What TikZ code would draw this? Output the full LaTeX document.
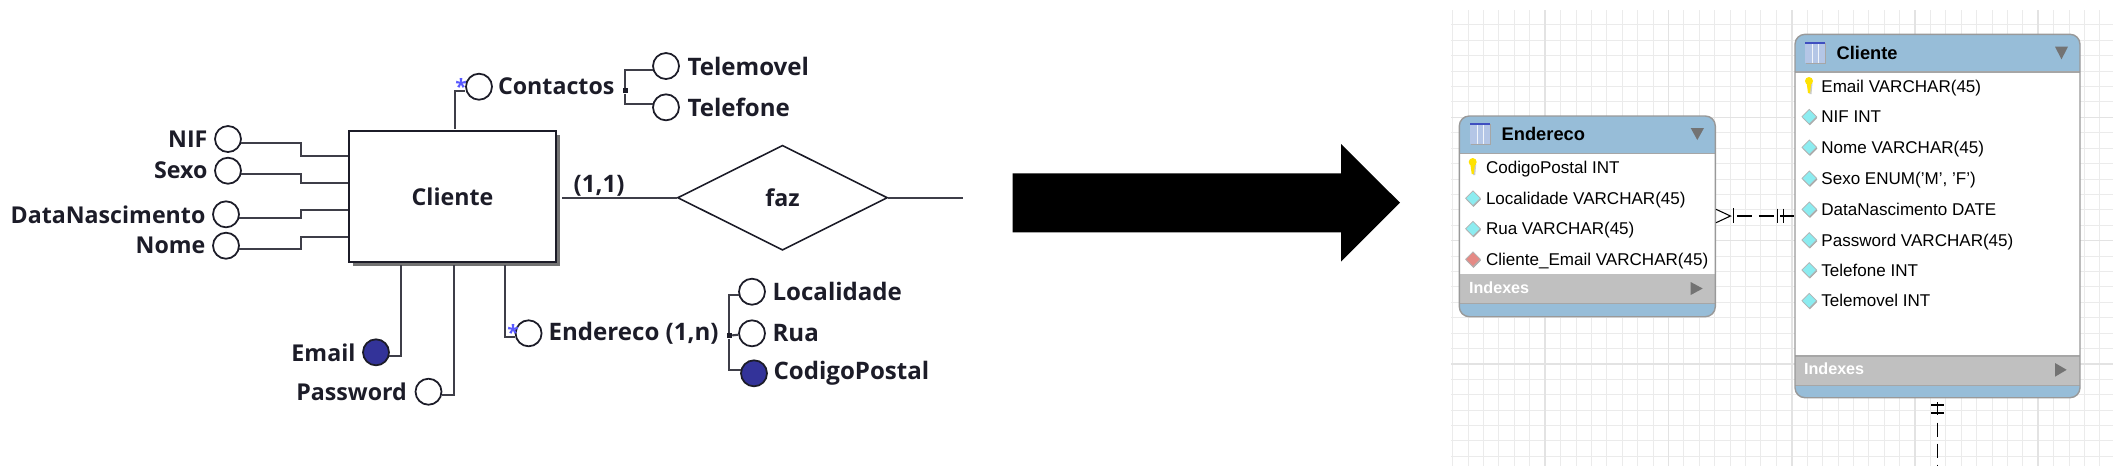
\documentclass[tikz,border=0pt]{standalone}
\usepackage{fontspec}
\setmainfont{Liberation Sans}
\newfontfamily\erfont{Open Sans}
\usetikzlibrary{positioning,shapes.geometric,shadows}
\definecolor{navy}{HTML}{333399}
\definecolor{erink}{HTML}{1C1C28}
\definecolor{tblblue}{HTML}{97BDD8}
\definecolor{tblgray}{HTML}{C0C0C0}
\definecolor{colcyan}{HTML}{8CECF0}
\definecolor{colred}{HTML}{E58A85}
\definecolor{iconbody}{HTML}{B4C6E6}
\definecolor{iconbar}{HTML}{3F4FC0}
\tikzset{
  attr/.style={circle,draw=erink,fill=white,line width=.5pt,minimum size=2.6mm,inner sep=0pt},
  pkattr/.style={attr,fill=navy},
  erlabel/.style={inner sep=0pt,text=erink,font=\erfont\bfseries\fontsize{6.6}{7}\selectfont},
  erlabelw/.style={inner sep=0pt,text=erink,font=\erfont\bfseries\fontsize{6.85}{7}\selectfont},
  conn/.style={draw=erink!85,line width=.6pt},
  multi/.style={inner sep=0pt,text=blue!65!white,font=\erfont\bfseries\fontsize{6}{6}\selectfont},
  joint/.style={rectangle,fill=erink,minimum size=.5mm,inner sep=0pt},
  rowtxt/.style={anchor=west,inner sep=0pt,text height=1.5mm,text depth=.3mm,text=black,font=\fontsize{4.85}{6}\selectfont},
  coldot/.style={diamond,draw=black!30,fill=colcyan,line width=.2pt,minimum size=1.5mm,inner sep=0pt,
    drop shadow={shadow xshift=.06mm,shadow yshift=-.12mm,fill=black!35,opacity=1}},
  tbltitle/.style={anchor=west,inner sep=0pt,font=\bfseries\fontsize{5.2}{6}\selectfont},
  idxtxt/.style={anchor=west,inner sep=0pt,text=white,font=\bfseries\fontsize{4.6}{6}\selectfont},
  tblbox/.style={rectangle,draw=black!40,line width=.4pt,rounded corners=1mm,inner sep=0pt},
  link/.style={draw=black,line width=.3pt},
  key/.pic={
    \fill[black!20] (-1.5,-3) -- (3.5,-3) -- (2.5,8) -- (.5,8) -- cycle;
    \fill[yellow!85!orange] (0,-5) circle (4);
    \fill[yellow!85!orange] (-2.5,-4) -- (2.5,-4) -- (1,7) -- (-1,7) -- cycle;
  },
  tblicon/.pic={
    \fill[black!35] (1,1) rectangle (21,22);
    \fill[iconbody] (0,0) rectangle (20,21);
    \fill[iconbar] (0,0) rectangle (20,2.2);
    \draw[white!80!iconbody,line width=.2pt] (7,2.2) -- (7,21) (13.5,2.2) -- (13.5,21);
  }
}
\begin{document}
\begin{tikzpicture}[x=.1mm,y=-.1mm]
\useasboundingbox (0,0) rectangle (2113,475);

\node[rectangle,draw=erink,fill=white,line width=.6pt,minimum width=20.7mm,minimum height=13.1mm,inner sep=0pt,
  drop shadow={shadow xshift=.35mm,shadow yshift=-.35mm,fill=black!55,opacity=1},erlabel,text=erink] (cliente) at (452.5,196.7) {Cliente};

\node[attr] (nif) at (228,139) {};
\node[attr] (sexo) at (228,170.7) {};
\node[attr] (data) at (226,214.3) {};
\node[attr] (nome) at (226,245.7) {};
\node[pkattr] (email) at (376,352.3) {};
\node[attr] (password) at (428.5,391.7) {};
\node[attr] (contactos) at (479,86.7) {};
\node[attr] (endereco) at (528.6,333.3) {};
\node[attr] (telemovel) at (666,66) {};
\node[attr] (telefone) at (666,107.3) {};
\node[attr] (localidade) at (752,291.7) {};
\node[attr] (rua) at (752,333.3) {};
\node[pkattr] (codigo) at (754,373.3) {};

\node[erlabel,left=.6mm of nif] (nifl) {NIF};
\node[erlabel,left=.6mm of sexo] (sexol) {Sexo};
\node[erlabel,left=.6mm of data] (datal) {DataNascimento};
\node[erlabel,left=.6mm of nome] (nomel) {Nome};
\node[erlabel,left=.6mm of email] (emaill) {Email};
\node[erlabel,left=.7mm of password] (passwordl) {Password};
\node[erlabel,right=.45mm of contactos] (contactosl) {Contactos};
\node[erlabelw,right=.55mm of endereco] (enderecol) {Endereco (1,n)};
\node[erlabelw,right=.7mm of telemovel] (telemovell) {Telemovel};
\node[erlabelw,right=.7mm of telefone] (telefonel) {Telefone};
\node[erlabelw,right=.6mm of localidade] (localidadel) {Localidade};
\node[erlabelw,right=.6mm of rua] (rual) {Rua};
\node[erlabelw,right=.5mm of codigo] (codigol) {CodigoPostal};

\draw[conn] (nif.-15) -| (301,155.7) -- (cliente.west |- 0,155.7);
\draw[conn] (sexo.-15) -| (301,182.7) -- (cliente.west |- 0,182.7);
\draw[conn] (data.-15) -| (301,210) -- (cliente.west |- 0,210);
\draw[conn] (nome.-15) -| (301,237.3) -- (cliente.west |- 0,237.3);
\draw[conn] (email.-15) -| (401,265);
\draw[conn] (password.-15) -| (453.6,265);
\draw[conn] (endereco.west |- 0,337.3) -| (505,265);
\draw[conn] (contactos.west |- 0,91) -| (455,129);

\node[multi] (cstar) at (461,86) {*};
\node[multi] (estar) at (513,332) {*};

\node[joint] (cjoint) at (625,90.7) {};
\node[joint] (ejoint) at (729,335.7) {};
\draw[conn] (telemovel.-165) -| (cjoint) |- (telefone.165);
\draw[conn] (localidade.-165) -| (ejoint) |- (codigo.165);
\draw[conn] (ejoint) -- (rua);

\node[diamond,draw=erink,fill=white,line width=.45pt,aspect=2,minimum width=21mm,minimum height=10.5mm,inner sep=0pt,erlabel] (faz) at (782.5,197.7) {faz};
\coordinate (fazend) at (962.5,197.7);
\draw[conn] (cliente.east |- faz) ++(5,0) -- (faz.west);
\draw[conn] (faz.east) -- (fazend);
\node[erlabelw] (card) at (599,185.5) {(1,1)};

\fill[black] (1012.7,173.3) -- (1341,173.3) -- (1341,144) -- (1400,202.7) -- (1341,261.7) -- (1341,232.3) -- (1012.7,232.3) -- cycle;

\begin{scope}
\clip (1451,10) rectangle (2113,466);
\foreach \k in {-22,...,21} \draw[black!8,line width=.25pt] ({1791.7+15.41*\k},10) -- ({1791.7+15.41*\k},466);
\foreach \k in {-6,...,22} \draw[black!8,line width=.25pt] (1451,{117.3+15.41*\k}) -- (2113,{117.3+15.41*\k});
\foreach \k in {-16,-8,0,8,16} \draw[black!11,line width=.45pt] ({1791.7+15.41*\k},10) -- ({1791.7+15.41*\k},466);
\foreach \k in {0,8,16} \draw[black!11,line width=.45pt] (1451,{117.3+15.41*\k}) -- (2113,{117.3+15.41*\k});
\end{scope}

\fill[white,rounded corners=1mm] (1459.3,116) rectangle (1715.3,316.7);
\fill[tblblue,rounded corners=1mm] (1459.3,153.3) -- (1459.3,116) -- (1715.3,116) -- (1715.3,153.3);
\fill[tblblue,rounded corners=1mm] (1459.3,303.3) -- (1459.3,316.7) -- (1715.3,316.7) -- (1715.3,303.3);
\fill[tblgray] (1459.3,274) rectangle (1715.3,303.3);
\draw[black!35,line width=.3pt] (1459.3,153.3) -- (1715.3,153.3) (1459.3,303.3) -- (1715.3,303.3);
\node[tblbox,minimum width=25.6mm,minimum height=20.07mm] (tendereco) at (1587.3,216.35) {};

\fill[white,rounded corners=1mm] (1795,34.3) rectangle (2080,397.7);
\fill[tblblue,rounded corners=1mm] (1795,72) -- (1795,34.3) -- (2080,34.3) -- (2080,72);
\fill[tblblue,rounded corners=1mm] (1795,385.3) -- (1795,397.7) -- (2080,397.7) -- (2080,385.3);
\fill[tblgray] (1795,356) rectangle (2080,385.3);
\draw[black!35,line width=.3pt] (1795,72) -- (2080,72) (1795,356) -- (2080,356) (1795,385.3) -- (2080,385.3);
\node[tblbox,minimum width=28.5mm,minimum height=36.34mm] (tcliente) at (1937.5,216) {};

\pic at (1470,123) {tblicon};
\node[tbltitle] (tel) at (1501,134) {Endereco};
\fill[black!55] (1690.7,128) -- (1704,128) -- (1697.3,140) -- cycle;
\pic at (1472.7,167) {key};
\node[rowtxt] (e1) at (1485.3,167.3) {CodigoPostal INT};
\node[coldot] (de2) at (1473,198.3) {};
\node[rowtxt] (e2) at (1485.3,198.3) {Localidade VARCHAR(45)};
\node[coldot] (de3) at (1473,228.7) {};
\node[rowtxt] (e3) at (1485.3,228.7) {Rua VARCHAR(45)};
\node[coldot,fill=colred] (de4) at (1473,259.3) {};
\node[rowtxt] (e4) at (1485.3,259.3) {Cliente\_Email VARCHAR(45)};
\node[idxtxt] (ei) at (1468.3,287.3) {Indexes};
\fill[black!55] (1690.7,282) -- (1702.7,288.5) -- (1690.7,295) -- cycle;

\pic at (1805,42) {tblicon};
\node[tbltitle] (tcl) at (1836,52.7) {Cliente};
\fill[black!55] (2055,46.7) -- (2068,46.7) -- (2061.5,59.3) -- cycle;
\pic at (1809,86) {key};
\node[rowtxt] (c1) at (1820.7,86.7) {Email VARCHAR(45)};
\foreach \i/\yy/\t in {2/116.7/NIF INT,3/147.3/Nome VARCHAR(45),4/178.3/{Sexo ENUM('M', 'F')},5/209.3/DataNascimento DATE,6/240/Password VARCHAR(45),7/270/Telefone INT,8/300.7/Telemovel INT}{
  \node[coldot] (dc\i) at (1809.3,\yy) {};
  \node[rowtxt] (c\i) at (1820.7,\yy) {\t};
}
\node[idxtxt] (ci) at (1803.3,369) {Indexes};
\fill[black!55] (2055,363) -- (2066.7,369.8) -- (2055,376.7) -- cycle;

\coordinate (linka) at (tendereco.east |- 0,216);
\coordinate (linkb) at (tcliente.west |- 0,216);
\draw[link,dash pattern=on 1.5mm off .65mm] (linka) ++(21.4,0) -- (linkb);
\draw[link] (linka) ++(0,-6.7) -- ++(14.5,6.7) -- ++(-14.5,6.7);
\draw[link] (linka) ++(17.4,-8) -- ++(0,14.7);
\draw[link] (linkb) ++(-16.7,-7.3) -- ++(0,14.7);
\draw[link] (linkb) ++(-11,-7.3) -- ++(0,14.7);

\coordinate (linkd) at (1937.3,466);
\draw[link] (1937.3,402) -- (1937.3,415);
\draw[link] (1931,405) -- (1944,405);
\draw[link] (1931,413) -- (1944,413);
\draw[link,dash pattern=on 1.45mm off .65mm] (1937.3,422.7) -- (linkd);
\end{tikzpicture}
\end{document}
